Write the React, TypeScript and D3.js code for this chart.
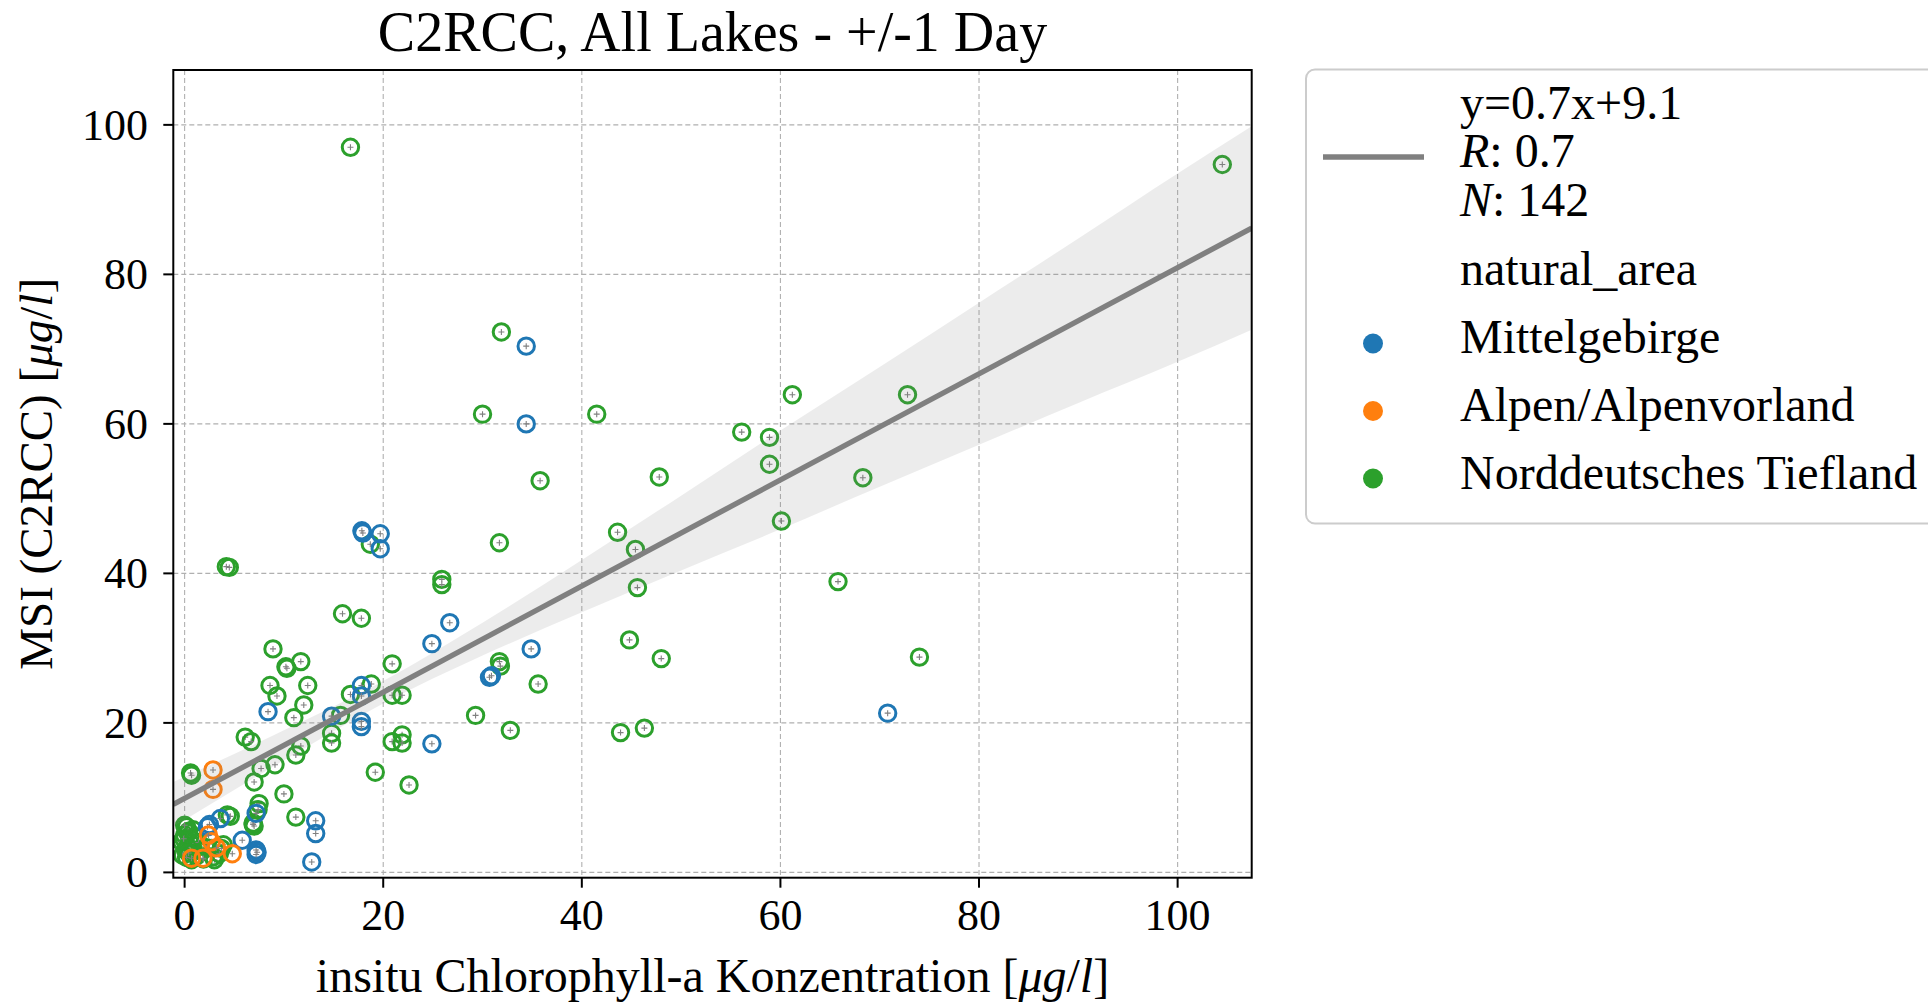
import React from "react";
import * as d3 from "d3";

// ---------- data ----------
const categories = ["Mittelgebirge", "Alpen/Alpenvorland", "Norddeutsches Tiefland"];
const categoryColors = ["#1f77b4", "#ff7f0e", "#2ca02c"];

const mittelgebirge: [number, number][] = [
  [34.4, 70.4], [34.4, 60.0], [17.85, 45.7], [17.95, 45.4], [19.7, 45.3], [19.7, 43.3],
  [26.7, 33.4], [24.9, 30.6], [34.9, 29.9], [30.9, 26.3], [30.7, 26.1], [17.8, 25.0],
  [17.8, 23.6], [14.8, 20.9], [17.8, 20.2], [17.8, 19.5], [24.9, 17.2], [8.4, 21.5],
  [70.8, 21.3], [7.2, 7.9], [3.6, 7.2], [2.3, 6.1], [13.2, 6.9], [13.2, 5.2], [5.8, 4.3],
  [7.2, 3.0], [7.2, 2.4], [12.8, 1.4], [7.3, 2.7], [2.5, 6.4],
];

const alpen: [number, number][] = [
  [2.86, 13.7], [2.86, 11.1], [2.7, 4.1], [2.4, 5.0], [4.8, 2.5], [0.7, 1.9], [1.85, 1.9], [3.2, 3.3],
];

const norddeutsch: [number, number][] = [
  [16.7, 97.0], [104.5, 94.7], [31.9, 72.3], [61.2, 63.9], [72.8, 63.9], [30.0, 61.3],
  [41.5, 61.3], [56.1, 58.9], [58.9, 58.2], [58.9, 54.6], [35.8, 52.4], [47.8, 52.9],
  [68.3, 52.8], [60.1, 47.0], [43.6, 45.5], [45.4, 43.2], [31.7, 44.1], [18.7, 43.9],
  [4.2, 40.9], [4.5, 40.8], [25.9, 39.2], [25.9, 38.5], [45.6, 38.1], [65.8, 38.9],
  [15.9, 34.6], [17.8, 34.0], [44.8, 31.1], [48.0, 28.6], [74.0, 28.8], [8.9, 29.9],
  [10.2, 27.5], [10.3, 27.3], [11.7, 28.2], [20.9, 27.9], [31.7, 28.2], [31.8, 27.6],
  [35.6, 25.2], [8.6, 25.0], [9.3, 23.6], [12.4, 25.0], [12.0, 22.4], [11.0, 20.7],
  [16.7, 23.8], [18.8, 25.2], [20.9, 23.7], [21.9, 23.7], [15.7, 21.0], [14.8, 18.6],
  [14.8, 17.3], [29.3, 21.0], [20.9, 17.5], [21.9, 18.4], [21.9, 17.3], [6.1, 18.1],
  [6.7, 17.5], [11.7, 16.9], [11.2, 15.7], [9.1, 14.4], [7.7, 13.9], [7.0, 12.1],
  [19.2, 13.4], [22.6, 11.7], [0.6, 13.3], [0.7, 13.0], [10.0, 10.5], [7.5, 9.2],
  [7.4, 8.4], [6.9, 6.4], [6.9, 6.6], [4.3, 7.7], [11.2, 7.4], [32.8, 19.0], [43.9, 18.7],
  [46.3, 19.3],
  [0.2, 6.1], [0.85, 5.7], [0.0, 5.0], [0.5, 4.6], [-0.3, 4.1], [0.3, 3.4], [-0.2, 2.3],
  [0.7, 1.7], [1.7, 2.8], [2.9, 2.1], [3.7, 3.2], [3.9, 3.7], [3.0, 1.7], [0.4, 5.5],
  [1.0, 4.8], [0.1, 3.0], [1.2, 2.2], [0.3, 5.3], [0.6, 3.9], [-0.1, 4.5], [0.9, 3.0],
  [0.2, 2.0], [1.4, 4.0], [2.2, 3.3], [7.0, 6.2], [4.6, 7.5], [3.5, 2.5], [0.4, 2.6],
  [1.9, 1.8], [0.0, 6.3],
];

const seriesData = [mittelgebirge, alpen, norddeutsch];
const drawOrder = [2, 0, 1];

// regression line and its confidence band
const regSlope = 0.71;
const regIntercept = 9.9;
const bandX = [-1.14, 10, 20, 30, 40, 50, 60, 70, 80, 90, 100, 107.46];
const bandUpper = [12.1, 19.0, 25.6, 33.4, 41.8, 50.4, 59.1, 67.6, 76.2, 84.8, 93.5, 99.8];
const bandLower = [6.1, 15.0, 22.6, 29.0, 34.8, 40.4, 45.9, 51.6, 57.2, 62.8, 68.3, 72.6];

const xTicks = [0, 20, 40, 60, 80, 100];
const yTicks = [0, 20, 40, 60, 80, 100];
const xDomain = [-1.14, 107.46];
const yDomain = [-0.71, 107.34];

const titleText = "C2RCC, All Lakes - +/-1 Day";
const legendEq = "y=0.7x+9.1";
const legendR = "0.7";
const legendN = "142";
const legendTitle = "natural_area";

// ---------- layout ----------
const W = 1928;
const H = 1006;
const plotLeft = 173.3;
const plotRight = 1251.7;
const plotTop = 70;
const plotBottom = 877.7;
const FONT = "'Liberation Serif', 'Times New Roman', serif";

export default function App() {
  const x = d3.scaleLinear().domain(xDomain).range([plotLeft, plotRight]);
  const y = d3.scaleLinear().domain(yDomain).range([plotBottom, plotTop]);

  const bandPts = bandX.map((bx, i) => ({ x: bx, lo: bandLower[i], hi: bandUpper[i] }));
  const area = d3
    .area<{ x: number; lo: number; hi: number }>()
    .x((d) => x(d.x))
    .y0((d) => y(d.lo))
    .y1((d) => y(d.hi))
    .curve(d3.curveMonotoneX);

  const lineGen = d3
    .line<number>()
    .x((d) => x(d))
    .y((d) => y(regSlope * d + regIntercept));

  const r = 8.2;
  const plus = 3;

  return (
    <svg
      width={W}
      height={H}
      style={{ position: "fixed", left: 0, top: 0, background: "#fff" }}
      fontFamily={FONT}
    >
      <rect x={0} y={0} width={W} height={H} fill="#fff" />
      <defs>
        <clipPath id="plotClip">
          <rect x={plotLeft} y={plotTop} width={plotRight - plotLeft} height={plotBottom - plotTop} />
        </clipPath>
      </defs>

      {/* grid */}
      <g stroke="#b0b0b0" strokeWidth={1.1} strokeDasharray="5,3">
        {xTicks.map((t) => (
          <line key={"gx" + t} x1={x(t)} x2={x(t)} y1={plotTop} y2={plotBottom} />
        ))}
        {yTicks.map((t) => (
          <line key={"gy" + t} x1={plotLeft} x2={plotRight} y1={y(t)} y2={y(t)} />
        ))}
      </g>

      <g clipPath="url(#plotClip)">
        {/* points */}
        {drawOrder.map((ci) => (
          <g key={"s" + ci}>
            {seriesData[ci].map((p, i) => (
              <g key={i}>
                <circle cx={x(p[0])} cy={y(p[1])} r={r} fill="none" stroke={categoryColors[ci]} strokeWidth={3} />
                <path
                  d={`M${x(p[0]) - plus},${y(p[1])}h${2 * plus}M${x(p[0])},${y(p[1]) - plus}v${2 * plus}`}
                  stroke="#808080"
                  strokeWidth={1.1}
                />
              </g>
            ))}
          </g>
        ))}
        {/* band */}
        <path d={area(bandPts) || ""} fill="rgba(128,128,128,0.15)" />
        {/* regression line */}
        <path d={lineGen(xDomain) || ""} stroke="#808080" strokeWidth={5.4} fill="none" />
      </g>

      {/* frame */}
      <rect
        x={plotLeft}
        y={plotTop}
        width={plotRight - plotLeft}
        height={plotBottom - plotTop}
        fill="none"
        stroke="#000"
        strokeWidth={2}
      />

      {/* x ticks */}
      {xTicks.map((t) => (
        <g key={"xt" + t}>
          <line x1={x(t)} x2={x(t)} y1={plotBottom} y2={plotBottom + 10} stroke="#000" strokeWidth={2} />
          <text x={x(t)} y={930} fontSize={44} textAnchor="middle" fill="#000">
            {t}
          </text>
        </g>
      ))}
      {/* y ticks */}
      {yTicks.map((t) => (
        <g key={"yt" + t}>
          <line x1={plotLeft - 10} x2={plotLeft} y1={y(t)} y2={y(t)} stroke="#000" strokeWidth={2} />
          <text x={148} y={y(t)} dy="0.34em" fontSize={44} textAnchor="end" fill="#000">
            {t}
          </text>
        </g>
      ))}

      {/* axis labels */}
      <text x={(plotLeft + plotRight) / 2} y={992} fontSize={48} textAnchor="middle" fill="#000">
        insitu Chlorophyll-a Konzentration [<tspan fontStyle="italic">μg</tspan>/<tspan fontStyle="italic">l</tspan>]
      </text>
      <text
        transform={`translate(52,${(plotTop + plotBottom) / 2}) rotate(-90)`}
        fontSize={47}
        textAnchor="middle"
        fill="#000"
      >
        MSI (C2RCC) [<tspan fontStyle="italic">μg</tspan>/<tspan fontStyle="italic">l</tspan>]
      </text>

      {/* title */}
      <text x={(plotLeft + plotRight) / 2} y={51} fontSize={56} textAnchor="middle" fill="#000">
        {titleText}
      </text>

      {/* legend */}
      <g>
        <rect x={1306} y={69.5} width={700} height={454} rx={9} fill="rgba(255,255,255,0.8)" stroke="#cccccc" strokeWidth={2} />
        <line x1={1323} x2={1424} y1={157} y2={157} stroke="#808080" strokeWidth={5.4} />
        <text x={1460} y={119} fontSize={48} fill="#000">
          {legendEq}
        </text>
        <text x={1460} y={167} fontSize={48} fill="#000">
          <tspan fontStyle="italic">R</tspan>: {legendR}
        </text>
        <text x={1460} y={216} fontSize={48} fill="#000">
          <tspan fontStyle="italic">N</tspan>: {legendN}
        </text>
        <text x={1460} y={285} fontSize={48} fill="#000">
          {legendTitle}
        </text>
        {categories.map((c, i) => (
          <g key={c}>
            <circle cx={1373} cy={343.5 + i * 67.5} r={10} fill={categoryColors[i]} />
            <text x={1460} y={353 + i * 68} fontSize={48} fill="#000">
              {c}
            </text>
          </g>
        ))}
      </g>
    </svg>
  );
}
